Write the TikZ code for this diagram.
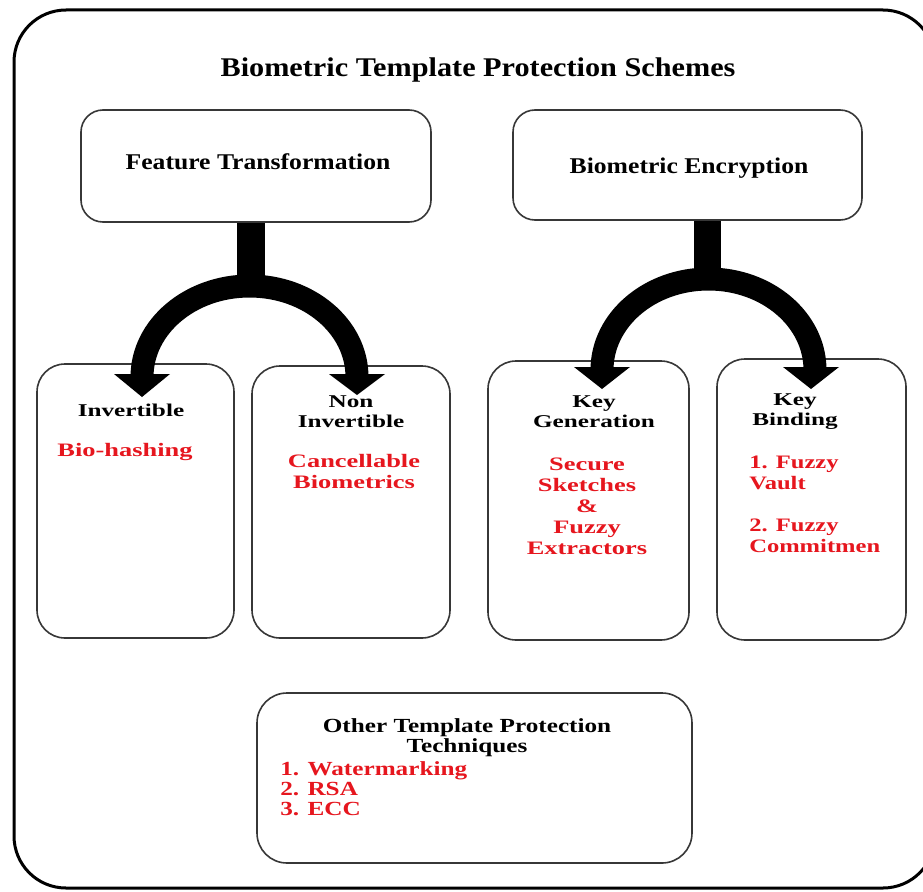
\documentclass[tikz,border=0pt]{standalone}
\usepackage{fontspec}
\setmainfont{Liberation Serif}
\usepackage{graphicx}
\definecolor{hl}{RGB}{230,22,30}
\definecolor{edge}{RGB}{55,55,55}
\tikzset{
  frame/.style={draw=black, line width=3pt, rounded corners=52pt},
  headbox/.style={draw=edge, line width=1.6pt, rounded corners=22pt, fill=white, inner sep=0pt},
  leafbox/.style={draw=edge, line width=1.6pt, rounded corners=28pt, fill=white, inner sep=0pt},
  titletext/.style={font=\fontsize{27}{30}\selectfont\bfseries, xscale=1.12, inner sep=0pt},
  headtext/.style={font=\fontsize{22.5}{26}\selectfont\bfseries, xscale=1.14, inner sep=0pt},
  leaftext/.style={font=\fontsize{18}{20}\selectfont\bfseries, xscale=1.4, align=center, inner sep=0pt},
  redtext/.style={font=\fontsize{19}{21}\selectfont\bfseries, text=hl, xscale=1.39, inner sep=0pt},
  othtext/.style={font=\fontsize{20}{20}\selectfont\bfseries, xscale=1.26, inner sep=0pt},
  stembar/.style={line width=28pt, line cap=butt},
  archbar/.style={line width=23pt, line cap=butt},
}
\begin{document}
\begin{tikzpicture}[x=1pt,y=-1pt]
\useasboundingbox (0,0) rectangle (923,891);
\fill[white] (0,0) rectangle (923,891);

% outer frame (its right side runs past the page edge)
\draw[frame] (14,10) rectangle (935,888);

\node[titletext] (title) at (478,70) {Biometric Template Protection Schemes};

% first level
\node[headbox, minimum width=350pt, minimum height=112pt] (ft) at (256,166) {};
\node[headtext] (ftl) at (258,162) {Feature Transformation};
\node[headbox, minimum width=349pt, minimum height=110pt] (be) at (687.5,165) {};
\node[headtext] (bel) at (689,168) {Biometric Encryption};

% second level
\node[leafbox, minimum width=197pt, minimum height=274pt] (inv) at (135.5,501) {};
\node[leafbox, minimum width=198pt, minimum height=272pt] (ninv) at (351,502) {};
\node[leafbox, minimum width=201pt, minimum height=279pt] (kg) at (588.5,500.5) {};
\node[leafbox, minimum width=189pt, minimum height=281pt] (kb) at (811.5,499.5) {};

\node[leaftext] (invl) at (131,410) {Invertible};
\node[redtext] (invr) at (125,452) {Bio-hashing};

\node[leaftext] (ninvl) at (351,412) {Non\\Invertible};
\node[redtext, align=center] (ninvr) at (354,471) {Cancellable\\Biometrics};

\node[leaftext] (kgl) at (594,412) {Key\\Generation};
\node[redtext, align=center] (kgr) at (587,506) {Secure\\Sketches\\\&\\Fuzzy\\Extractors};

\node[leaftext] (kbl) at (795,412) {Key\\Binding};
\node[redtext, xscale=0.93, align=left, anchor=west] (kbr) at (749,504) {1. Fuzzy\\Vault\\[21pt]2. Fuzzy\\Commitmen};

% other techniques
\node[leafbox, minimum width=435pt, minimum height=170pt, rounded corners=30pt] (oth) at (474.5,778) {};
\node[othtext, align=center] (othl) at (467,738) {Other Template Protection\\Techniques};
\node[othtext, text=hl, align=left, anchor=west] (othr) at (280,789) {1. Watermarking\\2. RSA\\3. ECC};

% split arrows
\coordinate (ftx) at (251,0);
\draw[stembar] (ftx |- ft.south) -- (251,292);
\draw[archbar] (142,377) arc[start angle=180, end angle=360, x radius=107.5, y radius=91];
\fill (114,374) -- (170,374) -- (142,397) -- cycle;
\fill (329,374) -- (385,374) -- (357,395) -- cycle;

\coordinate (bex) at (707,0);
\draw[stembar, line width=27pt] (bex |- be.south) -- (707,286);
\draw[archbar] (602,370) arc[start angle=180, end angle=360, x radius=106.5, y radius=91];
\fill (574,367) -- (630,367) -- (602,389) -- cycle;
\fill (783,367) -- (839,367) -- (811,389) -- cycle;
\end{tikzpicture}
\end{document}
